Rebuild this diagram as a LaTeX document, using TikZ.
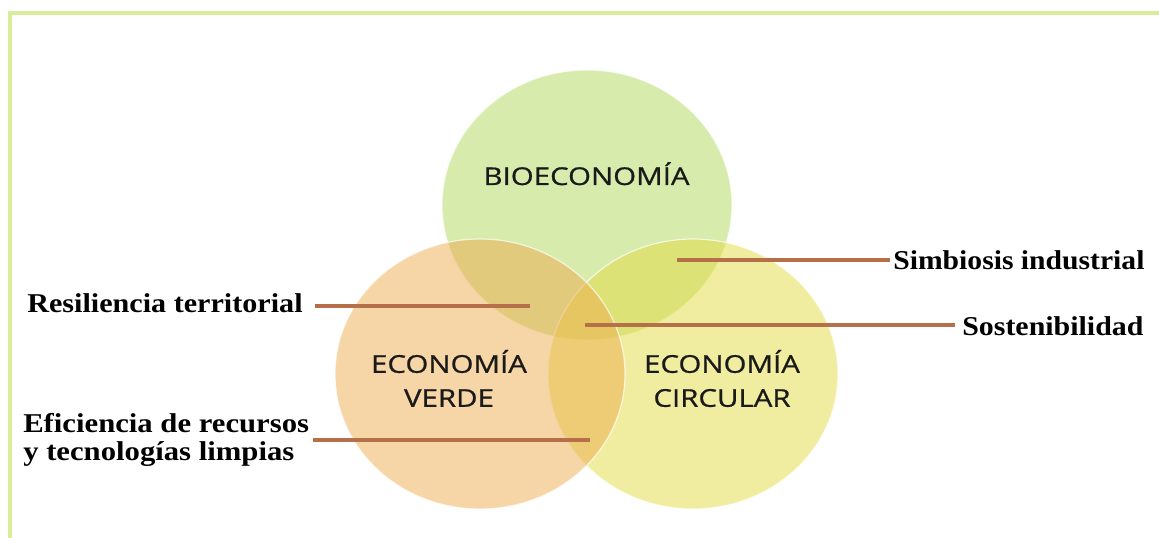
\documentclass[tikz,border=0pt]{standalone}
\usepackage{fontspec}
\setmainfont{Liberation Serif}
\newfontfamily\vennfont[FakeBold=0.7]{Open Sans}
\usetikzlibrary{calc}
\definecolor{framegreen}{HTML}{D9EE9A}
\definecolor{biocol}{HTML}{AFD75B}
\definecolor{verdecol}{HTML}{EDAB4D}
\definecolor{circcol}{HTML}{E3DB41}
\definecolor{leadcol}{HTML}{B5704A}
\definecolor{venntext}{HTML}{1A1A1A}
\tikzset{
  venn/.style={draw=white, draw opacity=0.7, line width=0.9pt, fill opacity=0.5},
  vennlabel/.style={inner sep=0pt, text=venntext, font=\vennfont\fontsize{18.4pt}{25.5pt}\selectfont},
  sidelabel/.style={inner sep=0pt, text=black, font=\bfseries\fontsize{20.4pt}{21pt}\selectfont},
  lead/.style={draw=leadcol, line width=2.6pt},
  frameline/.style={draw=framegreen, line width=2.6pt}
}
\begin{document}
\begin{tikzpicture}[x=0.75pt,y=-0.75pt]
\useasboundingbox (0,0) rectangle (1159,538);
% frame
\draw[frameline] (10,538) -- (10,13) -- (1159,13);
% circles
\path[venn, fill=biocol] (587,205) ellipse [x radius=145, y radius=135];
\path[venn, fill=circcol] (693,374) ellipse [x radius=145, y radius=135];
\path[venn, fill=verdecol] (480,374) ellipse [x radius=145, y radius=135];
% circle labels
\node[vennlabel, anchor=base] (bio) at (586.5,185) {\scalebox{1.2}[1]{BIOECONOMÍA}};
\node[vennlabel, anchor=center] (verde) at (449,383) {\scalebox{1.2}[1]{\begin{tabular}{@{}c@{}}ECONOMÍA\\VERDE\end{tabular}}};
\node[vennlabel, anchor=center] (circ) at (722,383) {\scalebox{1.2}[1]{\begin{tabular}{@{}c@{}}ECONOMÍA\\CIRCULAR\end{tabular}}};
% side labels
\node[sidelabel, anchor=base west] (res) at (27,312) {\scalebox{1.108}[1]{Resiliencia territorial}};
\node[sidelabel, anchor=west] (efi) at (23,440.4) {\scalebox{1.128}[1]{\begin{tabular}{@{}l@{}}Eficiencia de recursos\\y tecnologías limpias\end{tabular}}};
\node[sidelabel, anchor=base west] (sim) at (893,269) {\scalebox{1.09}[1]{Simbiosis industrial}};
\node[sidelabel, anchor=base west] (sos) at (962,335) {\scalebox{1.1}[1]{Sostenibilidad}};
% leader end points inside the diagram
\coordinate (pres) at (530,306);
\coordinate (pefi) at (590,440);
\coordinate (psim) at (677,260);
\coordinate (psos) at (585,325);
% leaders
\draw[lead] (pres) -- (pres -| 315,0);
\draw[lead] (pefi) -- (pefi -| 313,0);
\draw[lead] (psim) -- (psim -| 890,0);
\draw[lead] (psos) -- (psos -| 955,0);
\end{tikzpicture}
\end{document}
